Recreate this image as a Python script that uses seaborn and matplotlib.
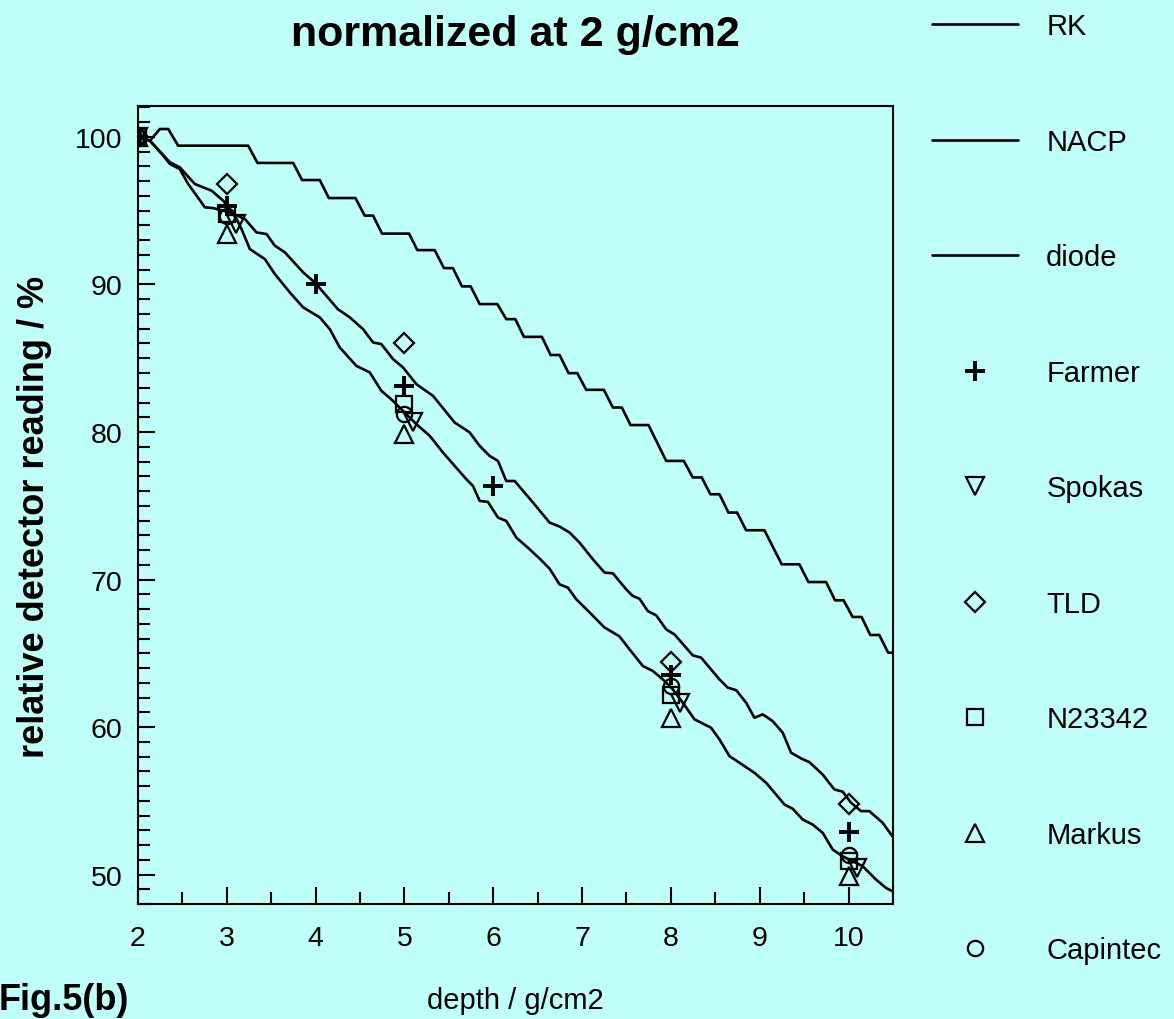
import matplotlib
matplotlib.use('Agg')
import matplotlib.pyplot as plt
import seaborn as sns
from matplotlib.ticker import MultipleLocator

# depth-dose curves (depth in g/cm2, reading in %)
rk_x = [2.0, 2.135, 2.247, 2.341, 2.453, 3.241, 3.346, 3.747, 3.848, 4.047,
        4.149, 4.449, 4.553, 4.647, 4.748, 5.052, 5.146, 5.341, 5.445, 5.546,
        5.648, 5.746, 5.847, 6.046, 6.147, 6.249, 6.345, 6.548, 6.646, 6.747,
        6.848, 6.946, 7.047, 7.245, 7.347, 7.448, 7.546, 7.748, 7.947, 8.145,
        8.246, 8.347, 8.445, 8.547, 8.648, 8.745, 8.847, 9.053, 9.248, 9.447,
        9.548, 9.747, 9.848, 9.945, 10.046, 10.147, 10.245, 10.346, 10.446, 10.5]
rk_y = [100.0, 99.75, 100.54, 100.54, 99.41, 99.41, 98.24, 98.24, 97.08, 97.08,
        95.86, 95.86, 94.67, 94.67, 93.45, 93.45, 92.33, 92.33, 91.11, 91.11,
        89.87, 89.87, 88.67, 88.67, 87.65, 87.65, 86.45, 86.45, 85.22, 85.22,
        83.99, 83.99, 82.86, 82.86, 81.66, 81.66, 80.47, 80.47, 78.04, 78.04,
        76.92, 76.92, 75.78, 75.78, 74.54, 74.54, 73.34, 73.34, 71.03, 71.03,
        69.83, 69.83, 68.59, 68.59, 67.46, 67.46, 66.24, 66.24, 65.04, 65.04]

nacp_x = [2.0, 2.135, 2.285, 2.36, 2.47, 2.566, 2.754, 2.847, 3.035, 3.204,
          3.335, 3.448, 3.541, 3.654, 3.86, 3.99, 4.12, 4.25, 4.385, 4.535,
          4.647, 4.74, 4.872, 4.984, 5.135, 5.322, 5.566, 5.735, 5.847, 5.96,
          6.053, 6.147, 6.241, 6.447, 6.634, 6.747, 6.86, 6.972, 7.122, 7.253,
          7.347, 7.497, 7.572, 7.647, 7.74, 7.835, 7.947, 8.04, 8.246, 8.341,
          8.547, 8.64, 8.735, 8.847, 8.94, 9.034, 9.146, 9.259, 9.353, 9.466,
          9.559, 9.709, 9.84, 9.934, 10.028, 10.141, 10.234, 10.384, 10.493]
nacp_y = [100.0, 99.75, 98.73, 98.17, 97.83, 96.81, 95.23, 95.18, 94.89, 94.44,
          93.53, 93.42, 92.63, 92.18, 90.82, 90.14, 89.24, 88.33, 87.77, 86.97,
          86.07, 85.96, 84.94, 84.38, 83.24, 82.45, 80.64, 79.97, 79.06, 78.38,
          78.04, 76.68, 76.68, 75.22, 73.86, 73.59, 73.18, 72.5, 71.37, 70.47,
          70.42, 69.33, 68.88, 68.7, 67.86, 67.57, 66.62, 66.28, 64.86, 64.7,
          63.23, 62.67, 62.5, 61.65, 60.63, 60.86, 60.4, 59.62, 58.26, 57.87,
          57.62, 56.78, 55.77, 55.62, 54.87, 54.3, 54.3, 53.51, 52.6]

diode_x = [2.0, 2.135, 2.36, 2.472, 2.641, 2.829, 2.96, 3.035, 3.11, 3.166,
           3.26, 3.429, 3.541, 3.71, 3.86, 4.047, 4.16, 4.272, 4.46, 4.61,
           4.741, 4.85, 5.022, 5.135, 5.285, 5.434, 5.566, 5.697, 5.772, 5.847,
           5.94, 6.053, 6.147, 6.26, 6.39, 6.522, 6.634, 6.747, 6.84, 6.935,
           7.08, 7.25, 7.42, 7.534, 7.684, 7.797, 7.909, 8.022, 8.134, 8.266,
           8.453, 8.547, 8.659, 8.772, 8.94, 9.072, 9.184, 9.278, 9.371, 9.484,
           9.596, 9.709, 9.821, 9.934, 10.046, 10.159, 10.309, 10.422, 10.493]
diode_y = [100.0, 99.75, 98.28, 97.94, 96.81, 96.36, 95.68, 95.12, 94.44, 93.76,
           92.4, 91.72, 90.71, 89.46, 88.45, 87.77, 86.97, 85.73, 84.48, 84.04,
           82.79, 82.23, 81.21, 80.53, 79.74, 78.61, 77.7, 76.8, 76.34, 75.33,
           75.26, 74.2, 73.97, 72.84, 72.16, 71.42, 70.74, 69.67, 69.45, 68.66,
           67.8, 66.76, 66.15, 65.27, 64.14, 63.8, 63.23, 62.55, 61.65, 60.52,
           59.95, 59.16, 58.03, 57.58, 56.9, 56.22, 55.43, 54.75, 54.46, 53.73,
           53.39, 52.83, 51.7, 51.24, 50.9, 50.57, 49.66, 49.09, 48.87]

# point measurements
depths = [2, 3, 5, 8, 10]
farmer_x = [2, 3, 4, 5, 6, 8, 10]
farmer_y = [100.0, 95.35, 90.0, 83.1, 76.35, 63.5, 52.9]
spokas_x = [2, 3.1, 5.1, 8.1, 10.1]
spokas_y = [100.0, 94.1, 80.65, 61.6, 50.45]
tld_y = [100.0, 96.8, 86.0, 64.4, 54.8]
n23342_y = [100.0, 94.8, 81.9, 62.2, 50.9]
markus_y = [100.0, 93.4, 79.85, 60.6, 49.9]
capintec_y = [100.0, 94.65, 81.2, 62.8, 51.35]

BG = '#bffff7'

sns.set_style('ticks', rc={'axes.facecolor': BG, 'figure.facecolor': BG,
                           'axes.edgecolor': 'black', 'axes.linewidth': 1.5,
                           'text.color': 'black', 'axes.labelcolor': 'black',
                           'xtick.color': 'black', 'ytick.color': 'black'})
plt.rcParams['font.family'] = ['Liberation Sans', 'DejaVu Sans']

fig = plt.figure(figsize=(11.74, 10.20), dpi=100)
ax = fig.add_axes([0.1175, 0.1127, 0.6431, 0.7824])

for xs, ys, name in [(rk_x, rk_y, 'RK'), (nacp_x, nacp_y, 'NACP'),
                     (diode_x, diode_y, 'diode')]:
    sns.lineplot(x=xs, y=ys, ax=ax, color='black', linewidth=1.9,
                 sort=False, estimator=None, label=name)

points = [
    ('Farmer', farmer_x, farmer_y, '+', 15, 2.8),
    ('Spokas', spokas_x, spokas_y, 'v', 12.5, 1.6),
    ('TLD', depths, tld_y, 'D', 10, 1.6),
    ('N23342', depths, n23342_y, 's', 11.5, 1.6),
    ('Markus', depths, markus_y, '^', 12.5, 1.6),
    ('Capintec', depths, capintec_y, 'o', 11, 1.6),
]
for name, xs, ys, mk, ms, mew in points:
    sns.lineplot(x=xs, y=ys, ax=ax, color='black', linestyle='', marker=mk,
                 markersize=ms, markerfacecolor='none',
                 markeredgecolor='black', markeredgewidth=mew,
                 sort=False, estimator=None, label=name)

ax.set_xlim(2, 10.5)
ax.set_ylim(48, 102.1)
ax.xaxis.set_major_locator(MultipleLocator(1))
ax.xaxis.set_minor_locator(MultipleLocator(0.5))
ax.yaxis.set_major_locator(MultipleLocator(10))
ax.yaxis.set_minor_locator(MultipleLocator(1))
ax.tick_params(which='both', direction='in', width=1.5, colors='black',
               labelsize=20.5, top=False, right=False)
ax.tick_params(axis='y', pad=11)
ax.tick_params(axis='x', pad=15)
ax.tick_params(which='major', length=12)
ax.tick_params(which='minor', length=8.5)
for s in ax.spines.values():
    s.set_visible(True)
    s.set_linewidth(1.5)

ax.set_xlabel('depth / g/cm2', fontsize=21, labelpad=25)
ax.set_ylabel('relative detector reading / %', fontsize=26, fontweight='bold')
ax.yaxis.set_label_coords(-0.114, 0.486)

handles, labels = ax.get_legend_handles_labels()
if ax.get_legend() is not None:
    ax.get_legend().remove()
fig.legend(handles, labels, loc='upper left', bbox_to_anchor=(0.794, 0.987),
           frameon=False, fontsize=21, handlelength=2.95, handletextpad=0.96,
           labelspacing=3.0, borderpad=0, borderaxespad=0)

fig.text(515 / 1174, 1 - 35 / 1020, 'normalized at 2 g/cm2', fontsize=31,
         fontweight='bold', ha='center', va='center')
fig.text(-0.001, 0.002, 'Fig.5(b)', fontsize=26, fontweight='bold',
         ha='left', va='bottom')

fig.savefig('out.png', dpi=100, facecolor=BG)
